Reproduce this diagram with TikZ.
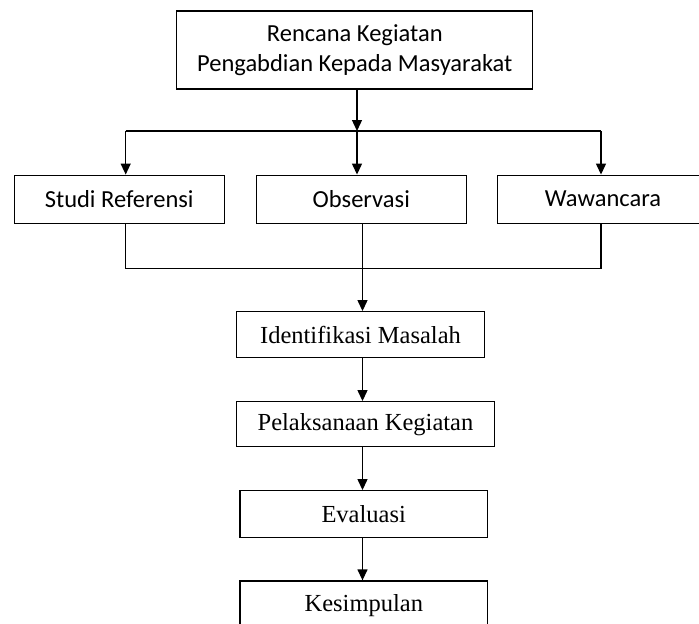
\documentclass[tikz,border=0pt]{standalone}
\usepackage{fontspec}
\setmainfont{Liberation Serif}
\newfontfamily\calibri{Carlito}
\usetikzlibrary{arrows.meta}

\begin{document}
\begin{tikzpicture}[x=1pt,y=-1pt,line width=1.3pt,>={Triangle[width=10pt,length=11pt]},
        kotak/.style={draw,inner sep=0pt,align=center,font=\fontsize{24.5}{30}\selectfont},
        kotaksans/.style={kotak,font=\calibri\fontsize{24.5}{30}\selectfont}]
                \useasboundingbox (0,0) rectangle (699,624);
                \clip (0,0) rectangle (699,624);

                \node[kotaksans,minimum width=356pt,minimum height=78pt] (rencana) at (354.8,50) {Rencana Kegiatan\\Pengabdian Kepada Masyarakat};
                \node[kotaksans,minimum width=210pt,minimum height=48pt] (studi) at (119.2,199.2) {Studi Referensi};
                \node[kotaksans,minimum width=210pt,minimum height=48pt] (observasi) at (361.3,199.2) {Observasi};
                \node[kotaksans,minimum width=240pt,minimum height=48pt] (wawancara) at (617.7,199.2) {\hspace*{-29.4pt}Wawancara};
                \node[kotak,minimum width=247.6pt,minimum height=45.6pt] (identifikasi) at (360.5,334.5) {Identifikasi Masalah};
                \node[kotak,minimum width=257.6pt,minimum height=45pt] (pelaksanaan) at (365.5,424.2) {Pelaksanaan Kegiatan};
                \node[kotak,minimum width=247.3pt,minimum height=46.6pt] (evaluasi) at (363.7,514) {Evaluasi};
                \node[kotak,minimum width=247.7pt,minimum height=50pt] (kesimpulan) at (363.8,606) {Kesimpulan};

                \coordinate (cabang) at (357,131);
                \coordinate (cabangkiri) at (125.7,131);
                \coordinate (cabangkanan) at (601,131);
                \coordinate (gabungkiri) at (125.7,268.3);
                \coordinate (gabungkanan) at (601,268.3);
                \coordinate (turun) at (362.5,268.3);

                \draw[->] (rencana.south -| cabang) to (cabang);
                \draw (cabangkiri) to (cabangkanan);
                \draw[->] (cabangkiri) to (cabangkiri |- studi.north);
                \draw[->] (cabang) to (cabang |- observasi.north);
                \draw[->] (cabangkanan) to (cabangkanan |- wawancara.north);

                \draw (studi.south -| gabungkiri) to (gabungkiri) to (gabungkanan) to (wawancara.south -| gabungkanan);
                \draw[->] (observasi.south -| turun) to (identifikasi.north -| turun);
                \draw[->] (identifikasi.south -| turun) to (pelaksanaan.north -| turun);
                \draw[->] (pelaksanaan.south -| turun) to (evaluasi.north -| turun);
                \draw[->] (evaluasi.south -| turun) to (kesimpulan.north -| turun);
            \end{tikzpicture}
\end{document}
